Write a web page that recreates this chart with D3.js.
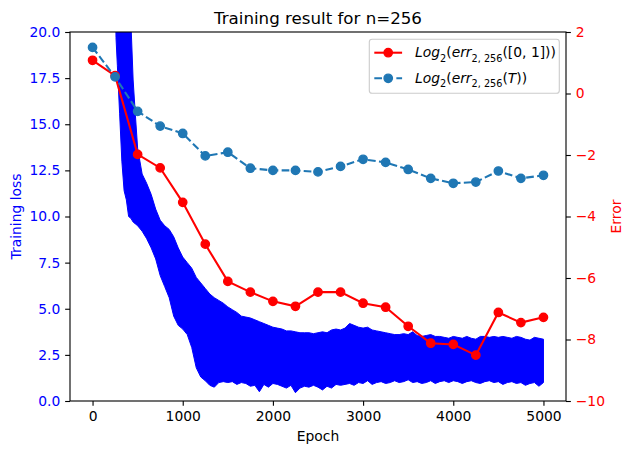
<!DOCTYPE html>
<html><head><meta charset="utf-8">
<script src="https://cdn.jsdelivr.net/npm/d3@7"></script>
<style>body{margin:0;background:#fff} svg{display:block} text{font-family:"DejaVu Sans",sans-serif}</style>
</head><body><svg id="c" width="634" height="455"></svg>
<script>
// ---- data ----
const errEpochs = [0,250,500,750,1000,1250,1500,1750,2000,2250,2500,2750,3000,3250,3500,3750,4000,4250,4500,4750,5000];
const errUnit = [1.08,0.58,-1.98,-2.42,-3.54,-4.9,-6.11,-6.46,-6.76,-6.92,-6.46,-6.46,-6.82,-6.95,-7.57,-8.12,-8.16,-8.51,-7.12,-7.45,-7.28];
const errT = [1.5,0.54,-0.58,-1.06,-1.3,-2.03,-1.91,-2.43,-2.5,-2.5,-2.55,-2.37,-2.14,-2.24,-2.47,-2.76,-2.92,-2.88,-2.52,-2.76,-2.66];

const lossEpochs = [250,260,275,300,325,350,375,400,425,450,475,500,
 550,600,650,700,750,800,850,900,950,1000,1050,1100,1150,1200,1250,1300,1350,1400,1450,1500,
 1550,1600,1650,1700,1750,1800,1850,1900,1950,2000,2050,2100,2150,2200,2250,2300,2350,2400,2450,2500,
 2550,2600,2650,2700,2750,2800,2850,2900,2950,3000,3050,3100,3150,3200,3250,3300,3350,3400,3450,3500,
 3550,3600,3650,3700,3750,3800,3850,3900,3950,4000,4050,4100,4150,4200,4250,4300,4350,4400,4450,4500,
 4550,4600,4650,4700,4750,4800,4850,4900,4950,5000];
const lossUpper = [40,40,40,40,40,40,40,30,20.6,17.4,15.5,13.7,
 12.3,11.8,11.2,10.4,9.8,9.5,9.3,8.9,8.3,7.8,7.5,7.2,6.7,6.4,6.1,5.8,5.6,5.45,5.3,5.1,
 4.95,4.8,4.6,4.55,4.5,4.4,4.3,4.2,4.1,4.0,3.95,3.9,3.8,3.8,3.75,3.7,3.7,3.7,3.65,3.7,
 3.75,3.7,3.85,3.9,3.85,3.95,4.2,4.1,4.0,3.95,4.0,3.85,3.8,3.75,3.7,3.65,3.6,3.6,3.65,3.6,
 3.75,3.55,3.5,3.55,3.6,3.5,3.5,3.45,3.4,3.5,3.45,3.4,3.5,3.4,3.35,3.5,3.5,3.45,3.5,3.45,
 3.5,3.45,3.4,3.5,3.45,3.35,3.3,3.45,3.4,3.35];
const lossLower = [24,19.7,18.2,15.6,13.0,11.4,10.9,10.0,9.9,9.7,9.6,9.5,
 9.2,8.8,8.3,7.7,6.8,6.2,5.6,4.6,4.1,3.9,3.6,2.9,1.8,1.3,1.1,0.85,0.75,1.0,1.05,1.0,
 1.05,0.9,1.0,0.95,0.8,0.85,0.5,0.9,0.75,0.95,0.9,0.8,0.7,0.85,0.45,0.7,0.8,0.75,0.85,0.75,
 0.6,0.8,0.7,0.9,0.85,0.9,0.95,0.85,1.0,0.95,1.1,0.9,1.0,1.05,0.95,1.0,1.1,1.0,1.05,1.15,
 1.0,1.05,0.95,1.0,1.1,0.95,1.05,1.1,1.0,1.1,1.05,0.95,1.05,1.1,1.0,0.95,1.05,1.1,1.0,1.05,
 0.9,1.0,1.05,0.95,1.0,0.85,0.95,1.0,0.8,1.0];

const xTicks = [0,1000,2000,3000,4000,5000];
const yLTicks = [0,2.5,5,7.5,10,12.5,15,17.5,20];
const yRTicks = [2,0,-2,-4,-6,-8,-10];

// ---- layout ----
const L=70,R=566,T=32,B=401, FS=13.89;
const svg = d3.select("#c");
const x = d3.scaleLinear().domain([-250,5250]).range([L,R]);
const yL = d3.scaleLinear().domain([0,20]).range([B,T]);
const yR = d3.scaleLinear().domain([-10,2]).range([B,T]);

svg.append("defs").append("clipPath").attr("id","clip")
  .append("rect").attr("x",L).attr("y",T).attr("width",R-L).attr("height",B-T);

const plot = svg.append("g").attr("clip-path","url(#clip)");

// training loss band
const idx = d3.range(lossEpochs.length);
plot.append("path")
  .attr("d", d3.area().x(i=>x(lossEpochs[i])).y0(i=>yL(lossLower[i])).y1(i=>yL(lossUpper[i]))(idx))
  .attr("fill","#0000ff").attr("stroke","#0000ff").attr("stroke-width",1);

// error lines
function series(vals, color, dash){
  const g = svg.append("g");
  g.append("path")
    .attr("d", d3.line().x((d,i)=>x(errEpochs[i])).y(d=>yR(d))(vals))
    .attr("fill","none").attr("stroke",color).attr("stroke-width",2.08)
    .attr("stroke-dasharray", dash||null);
  g.selectAll("circle").data(vals).join("circle")
    .attr("cx",(d,i)=>x(errEpochs[i])).attr("cy",d=>yR(d)).attr("r",4.17)
    .attr("fill",color).attr("stroke",color).attr("stroke-width",1.39);
}
series(errUnit,"#ff0000");
series(errT,"#1f77b4","7.7,3.33");

// axes
function styleAxis(g,color){
  g.select(".domain").remove();
  g.selectAll(".tick line").attr("stroke","#000").attr("stroke-width",1.11);
  g.selectAll(".tick text").attr("fill",color).attr("font-size",FS).attr("font-family","DejaVu Sans");
}
const gx = svg.append("g").attr("transform",`translate(0,${B})`)
  .call(d3.axisBottom(x).tickValues(xTicks).tickSize(4.86).tickPadding(4.86).tickFormat(d3.format("d")));
styleAxis(gx,"#000");
const gl = svg.append("g").attr("transform",`translate(${L},0)`)
  .call(d3.axisLeft(yL).tickValues(yLTicks).tickSize(4.86).tickPadding(4.86).tickFormat(d3.format(".1f")));
styleAxis(gl,"#0000ff");
const gr = svg.append("g").attr("transform",`translate(${R},0)`)
  .call(d3.axisRight(yR).tickValues(yRTicks).tickSize(4.86).tickPadding(4.86).tickFormat(d3.format("d")));
styleAxis(gr,"#ff0000");

// spines
svg.append("rect").attr("x",L).attr("y",T).attr("width",R-L).attr("height",B-T)
  .attr("fill","none").attr("stroke","#000").attr("stroke-width",1.11);

// labels
svg.append("text").attr("x",(L+R)/2).attr("y",23.7).attr("text-anchor","middle")
  .attr("font-size",16.67).text("Training result for n=256");
svg.append("text").attr("x",(L+R)/2).attr("y",440.7).attr("text-anchor","middle")
  .attr("font-size",FS).text("Epoch");
svg.append("text").attr("transform",`translate(20.6,${(T+B)/2}) rotate(-90)`).attr("text-anchor","middle")
  .attr("font-size",FS).attr("fill","#0000ff").text("Training loss");
svg.append("text").attr("transform",`translate(621,${(T+B)/2}) rotate(-90)`).attr("text-anchor","middle")
  .attr("font-size",FS).attr("fill","#ff0000").text("Error");

// legend
const lg = svg.append("g");
lg.append("rect").attr("x",369.3).attr("y",39.3).attr("width",190).attr("height",54).attr("rx",2.8)
  .attr("fill","#fff").attr("fill-opacity",0.8).attr("stroke","#cccccc").attr("stroke-width",1.11);
const legendItems = [
  {color:"#ff0000", dash:null, y:52.7, parts:[["Log","i"],["2","s"],["(","n"],["err","i"],["2, 256","s"],["([0, 1]))","n"]]},
  {color:"#1f77b4", dash:"7.7,3.33", y:78.3, parts:[["Log","i"],["2","s"],["(","n"],["err","i"],["2, 256","s"],["(","n"],["T","i"],["))","n"]]}
];
legendItems.forEach(it=>{
  lg.append("line").attr("x1",374.3).attr("x2",402.1).attr("y1",it.y).attr("y2",it.y)
    .attr("stroke",it.color).attr("stroke-width",2.08).attr("stroke-dasharray",it.dash);
  lg.append("circle").attr("cx",388.2).attr("cy",it.y).attr("r",4.17)
    .attr("fill",it.color).attr("stroke",it.color).attr("stroke-width",1.39);
  const t = lg.append("text").attr("x",415).attr("y",it.y+4.6).attr("font-size",FS);
  let sub=false;
  it.parts.forEach(([s,k])=>{
    const ts = t.append("tspan").text(s);
    if(k==="i") ts.attr("font-style","italic");
    if(k==="s"){ ts.attr("font-size",9.7).attr("dy",sub?0:4.2); sub=true; }
    else { if(sub){ ts.attr("dy",-4.2); sub=false; } }
  });
});
</script></body></html>
